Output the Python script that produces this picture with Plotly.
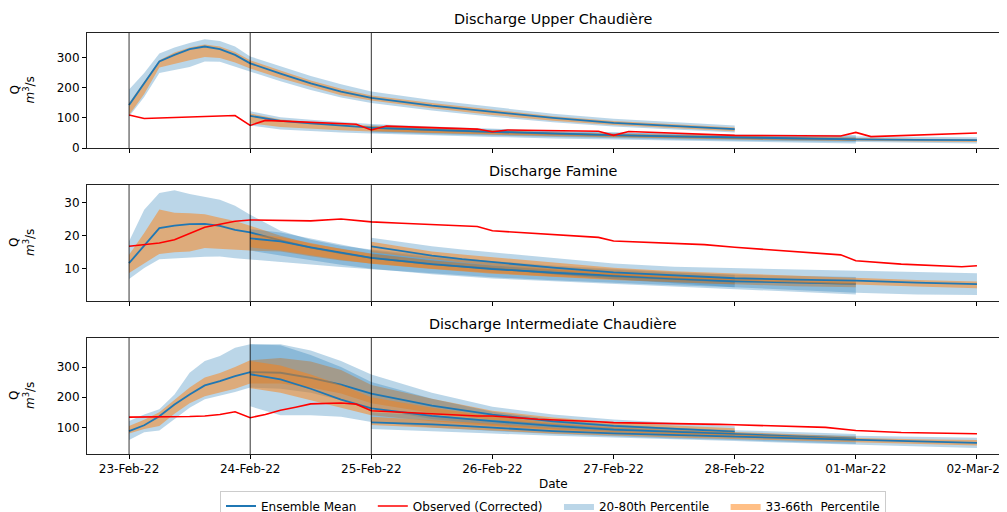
import plotly.graph_objects as go
from datetime import datetime, timedelta

# ---------------- data ----------------
start = datetime(2022, 2, 23)
issue_offsets_days = [0, 1, 2]          # forecasts issued 23, 24, 25 Feb
tick_dates = ["2022-02-23", "2022-02-24", "2022-02-25", "2022-02-26",
              "2022-02-27", "2022-02-28", "2022-03-01", "2022-03-02"]

# lead times (hours) of each forecast
f1_hours = [0, 3, 6, 9, 12, 15, 18, 21, 24, 30, 36, 42, 48, 60, 72, 84, 96, 108, 120]
f23_hours = [0, 6, 12, 18, 24, 36, 48, 60, 72, 84, 96, 108, 120]

# ---- Upper Chaudière ----
up_f1_mean = [143, 214, 288, 310, 329, 338, 329, 310, 282, 248, 215, 188, 167, 141, 120, 100, 84, 73, 63]
up_f1_p20 = [105, 170, 250, 260, 270, 288, 287, 272, 255, 222, 193, 168, 150, 125, 104, 86, 72, 61, 52]
up_f1_p33 = [110, 180, 268, 280, 292, 303, 300, 285, 265, 232, 203, 176, 158, 132, 110, 91, 77, 66, 56]
up_f1_p66 = [150, 222, 292, 318, 335, 345, 338, 320, 292, 258, 225, 197, 175, 150, 127, 106, 90, 78, 68]
up_f1_p80 = [195, 250, 315, 335, 350, 362, 356, 338, 305, 272, 240, 212, 188, 160, 136, 114, 97, 85, 75]

up_f2_mean = [107, 90, 82, 75, 68, 60, 53, 47, 42, 37, 34, 31, 29]
up_f2_p20 = [75, 62, 56, 52, 48, 42, 37, 32, 28, 24, 21, 18, 15]
up_f2_p33 = [82, 70, 64, 59, 55, 49, 44, 39, 35, 31, 28, 25, 23]
up_f2_p66 = [115, 95, 87, 80, 74, 66, 58, 52, 47, 43, 40, 37, 35]
up_f2_p80 = [122, 102, 94, 87, 80, 72, 64, 57, 52, 48, 45, 44, 43]

up_f3_mean = [67, 63, 60, 57, 54, 48, 43, 39, 35, 32, 29, 27, 26]
up_f3_p20 = [52, 49, 46, 43, 41, 36, 32, 28, 25, 22, 19, 17, 15]
up_f3_p33 = [57, 54, 51, 48, 46, 41, 37, 33, 30, 27, 24, 22, 20]
up_f3_p66 = [72, 68, 64, 61, 58, 52, 47, 43, 39, 36, 33, 31, 30]
up_f3_p80 = [76, 72, 68, 65, 62, 56, 51, 47, 43, 40, 38, 37, 36]

up_obs_hours = [0, 3, 21, 24, 27, 45, 48, 51, 69, 72, 75, 93, 96, 99, 120, 141, 144, 147, 168]
up_obs = [110, 98, 108, 75, 92, 79, 60, 73, 63, 54, 60, 56, 42, 55, 42, 40, 52, 38, 50]

# ---- Famine ----
fa_f1_mean = [11.7, 17.1, 22.3, 23.1, 23.5, 23.6, 23.0, 21.8, 21.0, 18.6, 16.4, 14.7, 13.3, 11.3, 9.9, 8.7, 7.7, 6.8, 6.1]
fa_f1_p20 = [6.9, 10.2, 12.9, 13.2, 13.3, 13.6, 13.7, 13.2, 12.8, 12.0, 11.2, 10.5, 9.8, 8.5, 7.4, 6.5, 5.7, 5.0, 4.4]
fa_f1_p33 = [8.7, 11.7, 14.5, 15.0, 15.2, 16.3, 16.0, 15.8, 15.5, 15.2, 13.8, 12.5, 11.6, 10.0, 8.7, 7.6, 6.7, 5.9, 5.2]
fa_f1_p66 = [14.2, 20.8, 28.0, 27.0, 26.8, 26.5, 25.5, 24.5, 23.0, 20.0, 17.6, 16.0, 14.6, 12.6, 11.0, 9.8, 8.8, 7.9, 7.1]
fa_f1_p80 = [18.3, 27.9, 33.0, 33.8, 32.7, 31.8, 30.9, 29.1, 26.4, 21.5, 18.8, 17.0, 15.8, 14.0, 12.3, 11.0, 9.9, 9.0, 8.2]

fa_f2_mean = [19.2, 18.3, 16.5, 14.8, 13.3, 11.4, 9.9, 8.8, 7.8, 7.0, 6.2, 5.8, 5.4]
fa_f2_p20 = [15.5, 14.0, 12.5, 11.2, 10.0, 8.3, 7.0, 6.0, 5.2, 4.5, 3.8, 3.0, 2.2]
fa_f2_p33 = [16.5, 15.5, 14.0, 12.7, 11.5, 9.9, 8.5, 7.5, 6.6, 5.9, 5.2, 4.7, 4.4]
fa_f2_p66 = [20.5, 19.6, 17.8, 16.0, 14.5, 12.4, 10.8, 9.6, 8.6, 7.7, 7.0, 6.5, 6.1]
fa_f2_p80 = [22.0, 21.0, 19.2, 17.3, 15.5, 13.5, 11.8, 10.6, 9.6, 8.8, 8.2, 7.8, 7.5]

fa_f3_mean = [16.8, 15.3, 14.0, 12.9, 12.0, 10.3, 8.9, 7.9, 7.1, 6.7, 6.4, 5.8, 5.3]
fa_f3_p20 = [13.5, 12.5, 11.5, 10.7, 10.0, 8.3, 6.8, 5.6, 4.4, 3.5, 2.7, 2.2, 2.0]
fa_f3_p33 = [15.0, 13.9, 12.8, 11.9, 11.0, 9.4, 8.0, 7.0, 6.2, 5.6, 5.2, 4.6, 4.1]
fa_f3_p66 = [18.2, 16.6, 15.2, 14.3, 13.5, 11.8, 10.3, 9.2, 8.5, 7.8, 7.3, 6.6, 6.1]
fa_f3_p80 = [19.4, 18.0, 16.8, 15.8, 15.0, 13.3, 11.6, 10.6, 10.2, 9.9, 9.6, 9.0, 8.6]

fa_obs_hours = [0, 6, 9, 12, 15, 18, 21, 24, 30, 36, 42, 48, 54, 69, 72, 81, 93, 96, 114, 120, 141, 144, 153, 165, 168]
fa_obs = [16.8, 17.8, 18.8, 20.8, 22.6, 23.5, 24.4, 24.8, 24.6, 24.5, 25.1, 24.2, 23.8, 22.8, 21.5, 20.6, 19.5, 18.4, 17.3, 16.5, 14.2, 12.4, 11.4, 10.6, 10.9]

# ---- Intermediate Chaudière ----
in_f1_mean = [88, 107, 137, 176, 209, 239, 253, 270, 283, 281, 264, 242, 212, 172, 142, 120, 105, 95, 86]
in_f1_p20 = [58, 84, 90, 126, 165, 193, 204, 217, 232, 228, 215, 190, 162, 128, 108, 95, 84, 76, 70]
in_f1_p33 = [80, 95, 105, 145, 180, 203, 215, 228, 245, 245, 232, 212, 180, 148, 125, 108, 95, 86, 78]
in_f1_p66 = [105, 125, 150, 190, 232, 265, 280, 300, 322, 330, 318, 290, 240, 195, 155, 133, 117, 106, 97]
in_f1_p80 = [121, 143, 160, 209, 281, 320, 336, 364, 375, 375, 355, 320, 275, 215, 168, 143, 126, 114, 104]

in_f2_mean = [276, 259, 228, 192, 163, 138, 121, 105, 93, 85, 78, 70, 63]
in_f2_p20 = [170, 140, 140, 135, 118, 100, 88, 78, 70, 63, 58, 52, 45]
in_f2_p33 = [230, 215, 190, 165, 140, 120, 105, 92, 83, 76, 70, 63, 56]
in_f2_p66 = [320, 305, 275, 240, 200, 165, 137, 115, 100, 91, 85, 77, 70]
in_f2_p80 = [375, 372, 340, 300, 250, 195, 152, 127, 110, 99, 91, 84, 78]

in_f3_mean = [117, 114, 110, 105, 99, 88, 80, 75, 70, 63, 58, 53, 49]
in_f3_p20 = [95, 92, 88, 84, 80, 72, 66, 60, 55, 48, 43, 37, 32]
in_f3_p33 = [108, 104, 100, 95, 90, 80, 73, 67, 62, 55, 50, 45, 40]
in_f3_p66 = [135, 130, 125, 118, 112, 98, 88, 82, 77, 70, 65, 61, 58]
in_f3_p80 = [150, 146, 140, 132, 125, 110, 98, 90, 83, 76, 72, 68, 66]

in_obs_hours = [0, 6, 12, 15, 18, 21, 24, 27, 30, 33, 36, 42, 45, 48, 54, 69, 72, 81, 93, 96, 117, 120, 138, 144, 153, 168]
in_obs = [134, 134, 136, 138, 143, 152, 132, 143, 157, 167, 178, 181, 177, 155, 150, 138, 138, 127, 119, 116, 110, 109, 100, 90, 83, 79]

panel_titles = ["Discharge Upper Chaudière", "Discharge Famine", "Discharge Intermediate Chaudière"]
y_ranges = [[0, 383], [0.2, 35.4], [12, 396]]
y_ticks = [[0, 100, 200, 300], [10, 20, 30], [100, 200, 300]]

# ---------------- assemble ----------------
panels = [
    dict(fc=[(f1_hours, up_f1_mean, up_f1_p20, up_f1_p33, up_f1_p66, up_f1_p80),
             (f23_hours, up_f2_mean, up_f2_p20, up_f2_p33, up_f2_p66, up_f2_p80),
             (f23_hours, up_f3_mean, up_f3_p20, up_f3_p33, up_f3_p66, up_f3_p80)],
         obs=(up_obs_hours, up_obs)),
    dict(fc=[(f1_hours, fa_f1_mean, fa_f1_p20, fa_f1_p33, fa_f1_p66, fa_f1_p80),
             (f23_hours, fa_f2_mean, fa_f2_p20, fa_f2_p33, fa_f2_p66, fa_f2_p80),
             (f23_hours, fa_f3_mean, fa_f3_p20, fa_f3_p33, fa_f3_p66, fa_f3_p80)],
         obs=(fa_obs_hours, fa_obs)),
    dict(fc=[(f1_hours, in_f1_mean, in_f1_p20, in_f1_p33, in_f1_p66, in_f1_p80),
             (f23_hours, in_f2_mean, in_f2_p20, in_f2_p33, in_f2_p66, in_f2_p80),
             (f23_hours, in_f3_mean, in_f3_p20, in_f3_p33, in_f3_p66, in_f3_p80)],
         obs=(in_obs_hours, in_obs)),
]

BLUE = "#1f77b4"
BAND20 = "rgba(31,119,180,0.3)"
BAND33 = "rgba(255,127,14,0.5)"
FONT = "DejaVu Sans"
NB = "\u00a0"

# the page body adds an 8 px offset; work in screen pixels and convert
OFF = 8
W, H = 1007 - OFF, 512 - OFF
L = 87 - OFF
PW = W - L


def px_x(sx):
    return (sx - OFF - L) / PW


def px_y(sy):
    return 1 - (sy - OFF) / H


y_domains = [[px_y(148), px_y(33)], [px_y(301), px_y(185)], [px_y(454), px_y(338)]]
x_range = ["2022-02-22 15:40", "2022-03-02 05:57"]

fig = go.Figure()
legend_done = set()

for i, p in enumerate(panels):
    xa = "x" if i == 0 else f"x{i + 1}"
    ya = "y" if i == 0 else f"y{i + 1}"
    for k, (hrs, mean, p20, p33, p66, p80) in enumerate(p["fc"]):
        t0 = start + timedelta(days=issue_offsets_days[k])
        t = [t0 + timedelta(hours=h) for h in hrs]
        poly_x = t + t[::-1]
        show = "b20" not in legend_done
        legend_done.add("b20")
        fig.add_trace(go.Scatter(x=poly_x, y=p80 + p20[::-1], fill="toself", fillcolor=BAND20,
                                 line=dict(width=0), mode="lines", hoverinfo="skip",
                                 name="20-80th Percentile" + NB * 3, legendgroup="b20",
                                 showlegend=show, legendrank=3, xaxis=xa, yaxis=ya))
        show = "b33" not in legend_done
        legend_done.add("b33")
        fig.add_trace(go.Scatter(x=poly_x, y=p66 + p33[::-1], fill="toself", fillcolor=BAND33,
                                 line=dict(width=0), mode="lines", hoverinfo="skip",
                                 name="33-66th" + NB + " Percentile", legendgroup="b33",
                                 showlegend=show, legendrank=4, xaxis=xa, yaxis=ya))
        show = "mean" not in legend_done
        legend_done.add("mean")
        fig.add_trace(go.Scatter(x=t, y=mean, mode="lines", line=dict(color=BLUE, width=1.8),
                                 name="Ensemble Mean" + NB * 3, legendgroup="mean",
                                 showlegend=show, legendrank=1, xaxis=xa, yaxis=ya))
    oh, ov = p["obs"]
    show = "obs" not in legend_done
    legend_done.add("obs")
    fig.add_trace(go.Scatter(x=[start + timedelta(hours=h) for h in oh], y=ov, mode="lines",
                             line=dict(color="red", width=1.6),
                             name="Observed (Corrected)" + NB * 3,
                             legendgroup="obs", showlegend=show, legendrank=2,
                             xaxis=xa, yaxis=ya))

layout = dict(
    width=W, height=H,
    margin=dict(l=L, r=0, t=0, b=0, autoexpand=False),
    paper_bgcolor="white", plot_bgcolor="white",
    font=dict(family=FONT, size=12, color="black"),
    showlegend=True,
    legend=dict(orientation="h", x=px_x(553), xanchor="center",
                y=px_y(490.5), yanchor="top", bordercolor="#cccccc", borderwidth=1,
                bgcolor="white", font=dict(size=12, family=FONT), traceorder="normal",
                itemwidth=30),
)

shapes = []
annotations = []
for i in range(3):
    xkey = "xaxis" if i == 0 else f"xaxis{i + 1}"
    ykey = "yaxis" if i == 0 else f"yaxis{i + 1}"
    yname = "y" if i == 0 else f"y{i + 1}"
    xname = "x" if i == 0 else f"x{i + 1}"
    layout[xkey] = dict(
        domain=[0, 1], anchor=yname, range=x_range, type="date", automargin=False,
        tickvals=tick_dates, tickformat="%d-%b-%y", showticklabels=(i == 2),
        ticklabeloverflow="allow",
        ticks="outside", ticklen=4, tickwidth=1, tickcolor="black",
        showline=True, linecolor="#222222", linewidth=1, mirror=True,
        showgrid=False, zeroline=False,
        tickfont=dict(size=12, family=FONT, color="black"),
        matches=None if i == 0 else "x",
    )
    layout[ykey] = dict(
        domain=y_domains[i], anchor=xname, range=y_ranges[i], tickvals=y_ticks[i],
        automargin=False,
        ticks="outside", ticklen=4, tickwidth=1, tickcolor="black",
        showline=True, linecolor="#222222", linewidth=1, mirror=False,
        showgrid=False, zeroline=False,
        tickfont=dict(size=12, family=FONT, color="black"),
    )
    for d in issue_offsets_days:
        shapes.append(dict(type="line", xref=xname, yref=f"{yname} domain",
                           x0=start + timedelta(days=d), x1=start + timedelta(days=d),
                           y0=0, y1=1, line=dict(color="black", width=0.8), layer="above"))
    annotations.append(dict(text=panel_titles[i], xref="paper", yref="paper",
                            x=px_x(553), y=y_domains[i][1], xanchor="center",
                            yanchor="bottom", yshift=4, showarrow=False,
                            font=dict(size=14.4, family=FONT, color="black")))
    annotations.append(dict(text="Q<br><i>m</i><sup>3</sup>/s", xref="paper", yref="paper",
                            x=px_x(22), y=sum(y_domains[i]) / 2, xanchor="center",
                            yanchor="middle", textangle=-90, showarrow=False,
                            font=dict(size=12, family=FONT, color="black")))

annotations.append(dict(text="Date", xref="paper", yref="paper", x=px_x(553),
                        y=px_y(484), xanchor="center", yanchor="middle", showarrow=False,
                        font=dict(size=12, family=FONT, color="black")))

layout["shapes"] = shapes
layout["annotations"] = annotations
fig.update_layout(**layout)
fig.write_html("out.html")
